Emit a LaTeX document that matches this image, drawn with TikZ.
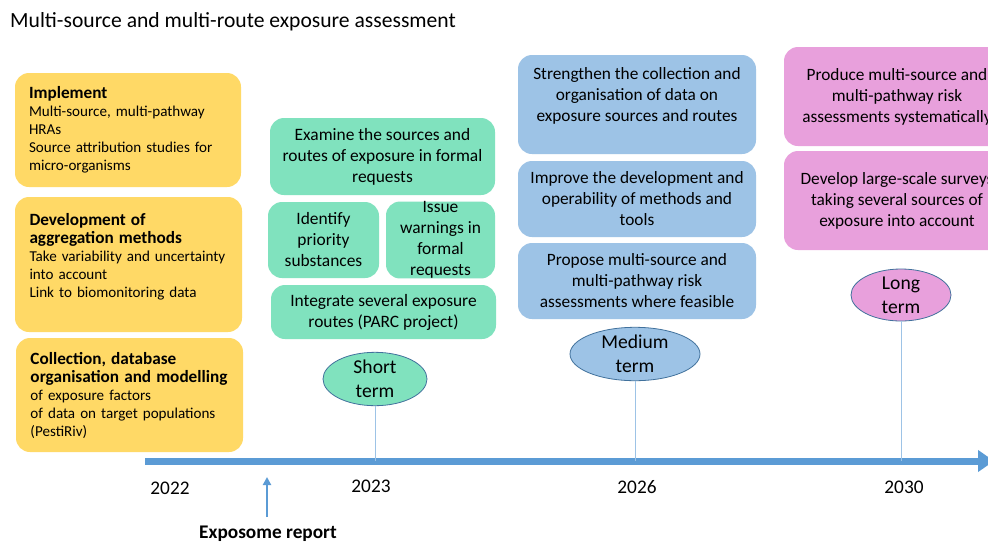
\documentclass[tikz,border=0pt]{standalone}
\usepackage{fontspec}
\setmainfont{Carlito}
\usetikzlibrary{shapes.geometric,arrows.meta}
\definecolor{yel}{HTML}{FFD966}
\definecolor{grn}{HTML}{80E2BE}
\definecolor{blu}{HTML}{9DC3E6}
\definecolor{pnk}{HTML}{E8A0DC}
\definecolor{tlblue}{HTML}{5B9BD5}
\definecolor{edge}{HTML}{41719C}
\definecolor{vline}{HTML}{9DC3E6}
\newcommand{\fs}[2]{\fontsize{#1}{#2}\selectfont}
\newcommand{\hdfont}{\bfseries\fs{17.2}{21}}
\tikzset{
  card/.style={rounded corners=14, inner sep=0pt, draw=none},
  ybox/.style={card, fill=yel, align=left, text width=198, font=\fs{15.1}{18}},
  gbox/.style={card, fill=grn, align=center, font=\fs{17.4}{21}},
  bbox/.style={card, fill=blu, align=center, font=\fs{17.3}{21}},
  pbox/.style={card, fill=pnk, align=center, font=\fs{17.3}{21}},
  term/.style={ellipse, draw=edge, line width=0.8pt, inner sep=0pt, align=center, font=\fs{19.6}{24}},
  drop/.style={draw=vline, line width=1pt},
  year/.style={font=\fs{19.3}{23}},
  ttl/.style={font=\fs{21.6}{25}, anchor=west, inner sep=0pt},
}
\begin{document}
\begin{tikzpicture}[x=1pt,y=-1pt]
\useasboundingbox (0,0) rectangle (988,542);
\clip (0,0) rectangle (988,542);
\fill[white] (0,0) rectangle (988,542);

\node[ttl] (title) at (10,22) {Multi-source and multi-route exposure assessment};

% yellow boxes
\node[ybox, minimum width=226, minimum height=114] (y1) at (128,130)
 {{\bfseries\fs{17.2}{19}Implement}\\Multi-source, multi-pathway\\HRAs\\Source attribution studies for\\micro-organisms};
\node[ybox, minimum width=227, minimum height=135] (y2) at (128.5,264.5)
 {{\hdfont Development of\\aggregation methods}\\Take variability and uncertainty\\into account\\Link to biomonitoring data\\\mbox{}};
\node[ybox, minimum width=227, minimum height=114] (y3) at (129.5,395)
 {{\hdfont Collection, database\\organisation and modelling}\\of exposure factors\\of data on target populations\\(PestiRiv)};

% green boxes
\node[gbox, minimum width=225, minimum height=77] (g1) at (382.5,156.5)
 {Examine the sources and\\routes of exposure in formal\\requests};
\node[gbox, minimum width=111, minimum height=76] (g2) at (323.5,240)
 {Identify\\priority\\substances};
\node[gbox, minimum width=109, minimum height=76] (g3) at (440.5,240)
 {Issue\\warnings in\\formal\\requests};
\node[gbox, minimum width=225, minimum height=54] (g4) at (383.5,312)
 {Integrate several exposure\\routes (PARC project)};

% blue boxes
\node[bbox, minimum width=238, minimum height=99] (b1) at (637,104.5)
 {Strengthen the collection and\\organisation of data on\\exposure sources and routes\\\mbox{}};
\node[bbox, minimum width=238, minimum height=76] (b2) at (637,199)
 {Improve the development and\\operability of methods and\\tools};
\node[bbox, minimum width=238, minimum height=76] (b3) at (637,281)
 {Propose multi-source and\\multi-pathway risk\\assessments where feasible};

% pink boxes
\node[pbox, minimum width=226, minimum height=99] (p1) at (897,96.5)
 {Produce multi-source and\\multi-pathway risk\\assessments systematically};
\node[pbox, minimum width=226, minimum height=99] (p2) at (897,200.5)
 {Develop large-scale surveys\\taking several sources of\\exposure into account};

% timeline
\coordinate (t0) at (145,461);
\coordinate (t1) at (994,461);
\draw[tlblue, line width=7, -{Triangle[length=16pt,width=21pt]}] (t0) -- (t1);

% terms
\node[term, fill=grn, minimum width=104, minimum height=52] (st) at (375,379) {Short\\term};
\node[term, fill=blu, minimum width=130, minimum height=50] (mt) at (635,354) {Medium\\term};
\node[term, fill=pnk, minimum width=100, minimum height=52] (lt) at (901,295) {Long\\term};
\draw[drop] (st.south) -- (st.south |- t0);
\draw[drop] (mt.south) -- (mt.south |- t0);
\draw[drop] (lt.south) -- (lt.south |- t0);

% years
\node[year] (y22) at (170,488) {2022};
\node[year] (y23) at (371,486) {2023};
\node[year] (y26) at (637,487) {2026};
\node[year] (y30) at (904,487) {2030};

% exposome report
\node[font=\bfseries\fs{19.3}{23}] (exp) at (268,534) {Exposome report};
\coordinate (ea) at (267,517);
\coordinate (eb) at (267,477);
\draw[tlblue, line width=2.5, -{Triangle[length=8pt,width=8pt]}] (ea) -- (eb);
\end{tikzpicture}
\end{document}
